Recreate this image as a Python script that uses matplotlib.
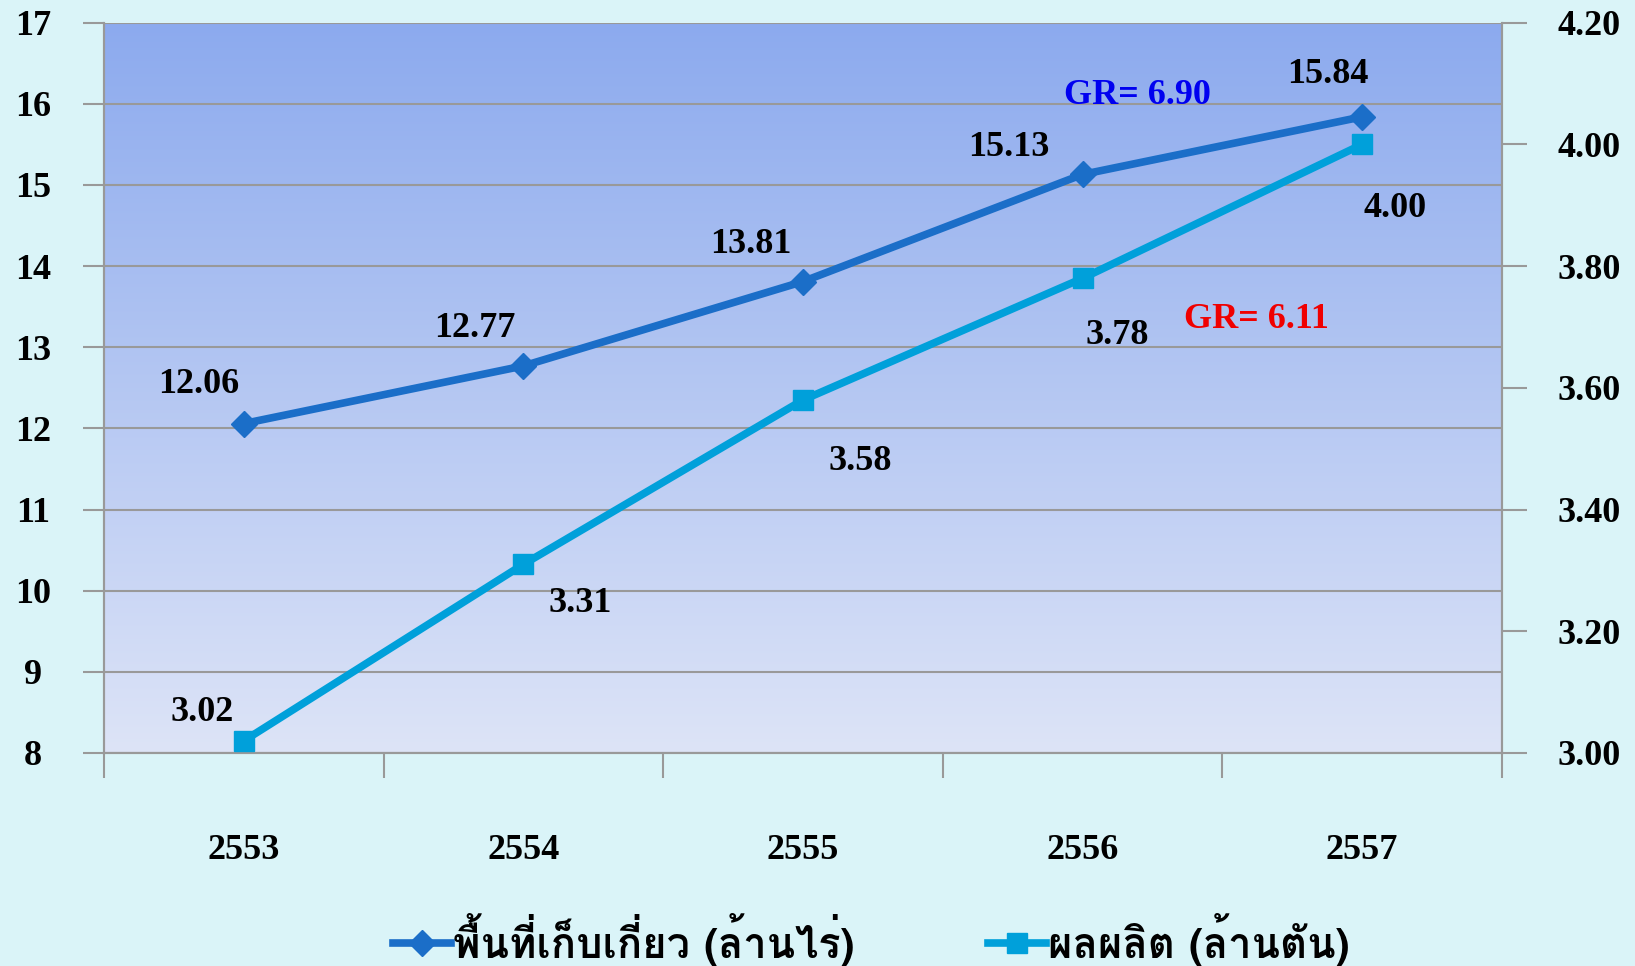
import numpy as np
import matplotlib
matplotlib.use("Agg")
import matplotlib.pyplot as plt
import matplotlib.font_manager as fm
from matplotlib.ft2font import FT2Font
from matplotlib.colors import LinearSegmentedColormap

years = ["2553", "2554", "2555", "2556", "2557"]
area = [12.06, 12.77, 13.81, 15.13, 15.84]
prod = [3.02, 3.31, 3.58, 3.78, 4.00]
area_label = "พื้นที่เก็บเกี่ยว (ล้านไร่)"
prod_label = "ผลผลิต (ล้านตัน)"
gr_area = "GR= 6.90"
gr_prod = "GR= 6.11"

# find fonts that have Thai glyphs
thai = []
for f in fm.fontManager.ttflist:
    try:
        if 0x0E1E in FT2Font(f.fname).get_charmap():
            if f.name not in thai:
                thai.append(f.name)
    except Exception:
        pass

SERIF = "Liberation Serif"
FS = 26
fig = plt.figure(figsize=(16.35, 9.66), dpi=100)
fig.patch.set_facecolor("#DAF4F8")
ax = fig.add_axes([0.0636, 0.2205, 0.855, 0.756])
ax2 = ax.twinx()

# gradient background
cmap = LinearSegmentedColormap.from_list("g", ["#DDE4F7", "#8CAAEE"])
grad = np.linspace(0, 1, 256).reshape(-1, 1)
ax.imshow(grad, aspect="auto", cmap=cmap, origin="lower",
          extent=[0, 1, 0, 1], transform=ax.transAxes, zorder=0)

x = np.arange(len(years))
ax.set_xlim(-0.5, len(years) - 0.5)
ax.set_ylim(8, 17)
ax2.set_ylim(3.0, 4.2)
ax.set_yticks(np.arange(8, 18, 1))
ax2.set_yticks(np.arange(3.0, 4.21, 0.2))
ax2.set_yticklabels([f"{v:.2f}" for v in np.arange(3.0, 4.21, 0.2)])

ax.grid(axis="y", color="#999999", lw=1.5, zorder=1)
ax.set_axisbelow(True)
for a in (ax, ax2):
    for s in a.spines.values():
        s.set_color("#999999")
        s.set_linewidth(1.5)
    a.spines["top"].set_visible(False)

ax.set_xticks(x)
ax.set_xticklabels(years)
ax.set_xticks(np.arange(-0.5, len(years), 1), minor=True)
ax.tick_params(axis="x", which="major", length=0, pad=58)
ax.tick_params(axis="x", which="minor", length=18, width=1.5, color="#999999")
ax.tick_params(axis="y", length=15, width=1.5, color="#999999", pad=36)
ax2.tick_params(axis="y", length=18, width=1.5, color="#999999", pad=22)

for lab in ax.get_xticklabels() + ax.get_yticklabels() + ax2.get_yticklabels():
    lab.set_fontfamily(SERIF)
    lab.set_fontweight("bold")
    lab.set_fontsize(FS)
for lab in ax.get_yticklabels():
    lab.set_horizontalalignment("center")
for lab in ax2.get_yticklabels():
    lab.set_horizontalalignment("left")

fam = thai + [SERIF, "DejaVu Sans"]
l1, = ax.plot(x, area, color="#1B6EC8", lw=5.5, marker="D", ms=13, zorder=5,
              label=area_label)
l2, = ax2.plot(x, prod, color="#00A0DA", lw=5.5, marker="s", ms=15, zorder=5,
               label=prod_label)

off1 = [(-45, 39), (-49, 37), (-52, 37), (-74, 27), (-34, 42)]
for xi, v, o in zip(x, area, off1):
    ax.annotate(f"{v:.2f}", (xi, v), xytext=o, textcoords="offset pixels",
                ha="center", va="center", fontsize=FS, fontweight="bold",
                fontfamily=SERIF, zorder=6)
off2 = [(-42, 28), (57, -39), (57, -61), (35, -57), (33, -64)]
for xi, v, o in zip(x, prod, off2):
    ax2.annotate(f"{v:.2f}", (xi, v), xytext=o, textcoords="offset pixels",
                 ha="center", va="center", fontsize=FS, fontweight="bold",
                 fontfamily=SERIF, zorder=6)

fig.text(1137 / 1635, 1 - 95 / 966, gr_area, color="#0000F0", fontsize=FS,
         fontweight="bold", fontfamily=SERIF, ha="center", va="center")
fig.text(1256 / 1635, 1 - 319 / 966, gr_prod, color="#F00000", fontsize=FS,
         fontweight="bold", fontfamily=SERIF, ha="center", va="center")

leg = fig.legend(handles=[l1, l2], loc="center", bbox_to_anchor=(0.533, 0.027),
                 ncol=2, frameon=False, columnspacing=3.2, handlelength=1.4,
                 handletextpad=0.05,
                 prop=fm.FontProperties(family=fam, size=30, weight="bold"))

fig.savefig("out.png", dpi=100, facecolor=fig.get_facecolor())
